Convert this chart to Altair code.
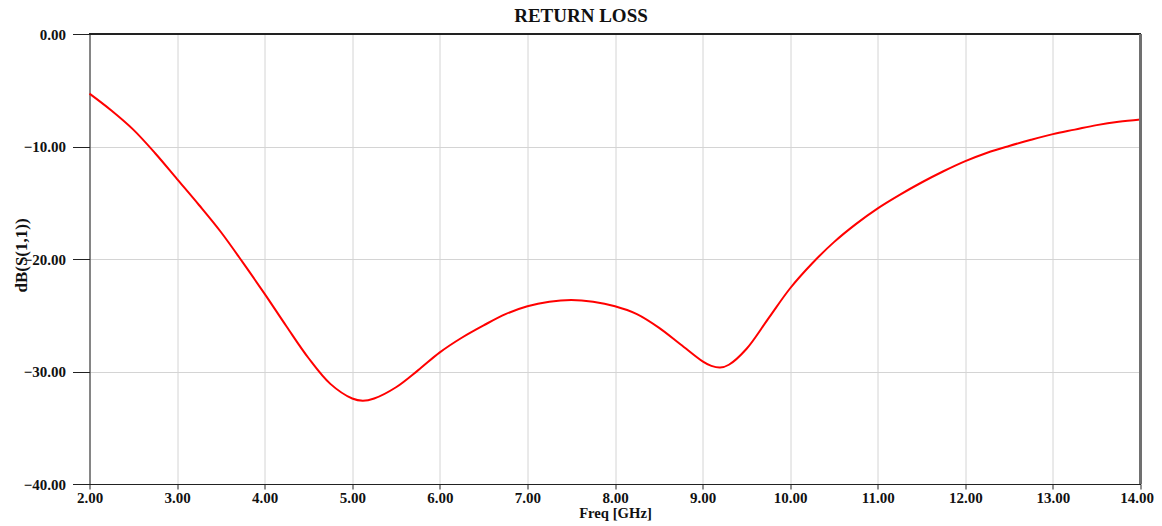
import altair as alt
import pandas as pd

freq = [2.00, 2.25, 2.50, 2.75, 3.00, 3.25, 3.50, 3.75, 4.00, 4.25, 4.50, 4.75,
        5.00, 5.12, 5.25, 5.50, 5.75, 6.00, 6.25, 6.50, 6.75, 7.00, 7.25, 7.50,
        7.75, 8.00, 8.25, 8.50, 8.75, 9.00, 9.10, 9.20, 9.30, 9.50, 9.75, 10.00,
        10.25, 10.50, 10.75, 11.00, 11.25, 11.50, 11.75, 12.00, 12.25, 12.50,
        12.75, 13.00, 13.25, 13.50, 13.75, 14.00]
db = [-5.3, -6.8, -8.5, -10.6, -12.9, -15.2, -17.6, -20.3, -23.1, -26.0, -28.8, -31.1,
      -32.4, -32.6, -32.4, -31.4, -29.9, -28.3, -27.0, -25.9, -24.9, -24.2, -23.8, -23.65,
      -23.8, -24.2, -24.9, -26.1, -27.6, -29.1, -29.5, -29.65, -29.4, -28.0, -25.3, -22.6,
      -20.4, -18.5, -16.9, -15.5, -14.3, -13.2, -12.2, -11.3, -10.55, -9.95,
      -9.4, -8.9, -8.5, -8.1, -7.8, -7.6]

x_ticks = [2, 3, 4, 5, 6, 7, 8, 9, 10, 11, 12, 13, 14]
y_ticks = [0, -10, -20, -30, -40]
title_text = ["RETURN LOSS"]

df = pd.DataFrame({"freq": freq, "db": db})
tdf = pd.DataFrame({"t": title_text})
FONT = "Liberation Serif"

x_scale = alt.Scale(domain=[2, 14], nice=False, zero=False)
y_scale = alt.Scale(domain=[-40, 0], nice=False)

line = alt.Chart(df).mark_line(color="#ff0000", strokeWidth=2, interpolate="catmull-rom").encode(
    x=alt.X("freq:Q", scale=x_scale, title="Freq [GHz]",
            axis=alt.Axis(values=x_ticks, format=".2f", tickSize=5, labelPadding=1,
                          titlePadding=0, labelFlush=False, titleFontSize=14.7,
                          labelOffset={"condition": {"test": "datum.value == 14", "value": -4},
                                       "value": 0})),
    y=alt.Y("db:Q", scale=y_scale, title="dB(S(1,1))",
            axis=alt.Axis(values=y_ticks, format=".2f", tickSize=17, labelPadding=7,
                          titleX=-63.5, titleY=221, titleBaseline="alphabetic",
                          titleFontSize=17)),
)

top_rule = alt.Chart(df).mark_rule(color="#222222", strokeWidth=1).encode(
    y=alt.datum(0, scale=y_scale)
)
right_rule = alt.Chart(df).mark_rule(color="#707070", strokeWidth=2).encode(
    x=alt.datum(14, scale=x_scale)
)
title = alt.Chart(tdf).mark_text(
    font=FONT, fontSize=19, fontWeight="bold", color="#111111",
    baseline="alphabetic", align="center"
).encode(text="t:N", x=alt.value(491.5), y=alt.value(-11.7))

chart = alt.layer(line, top_rule, right_rule, title).properties(
    width=1051,
    height=450,
    autosize=alt.AutoSizeParams(type="none"),
    padding={"left": 81.5, "top": 26, "right": 13.5, "bottom": 40},
).configure_view(stroke=None).configure_axis(
    labelFont=FONT, labelFontSize=15, labelFontWeight="bold", labelColor="#111111",
    titleFont=FONT, titleFontWeight="bold", titleColor="#111111",
    domainColor="#222222", tickColor="#222222", gridColor="#d4d4d4", gridWidth=1,
    domainWidth=1, tickWidth=1,
)

chart.save("out.html", embed_options={"renderer": "svg", "actions": False})
